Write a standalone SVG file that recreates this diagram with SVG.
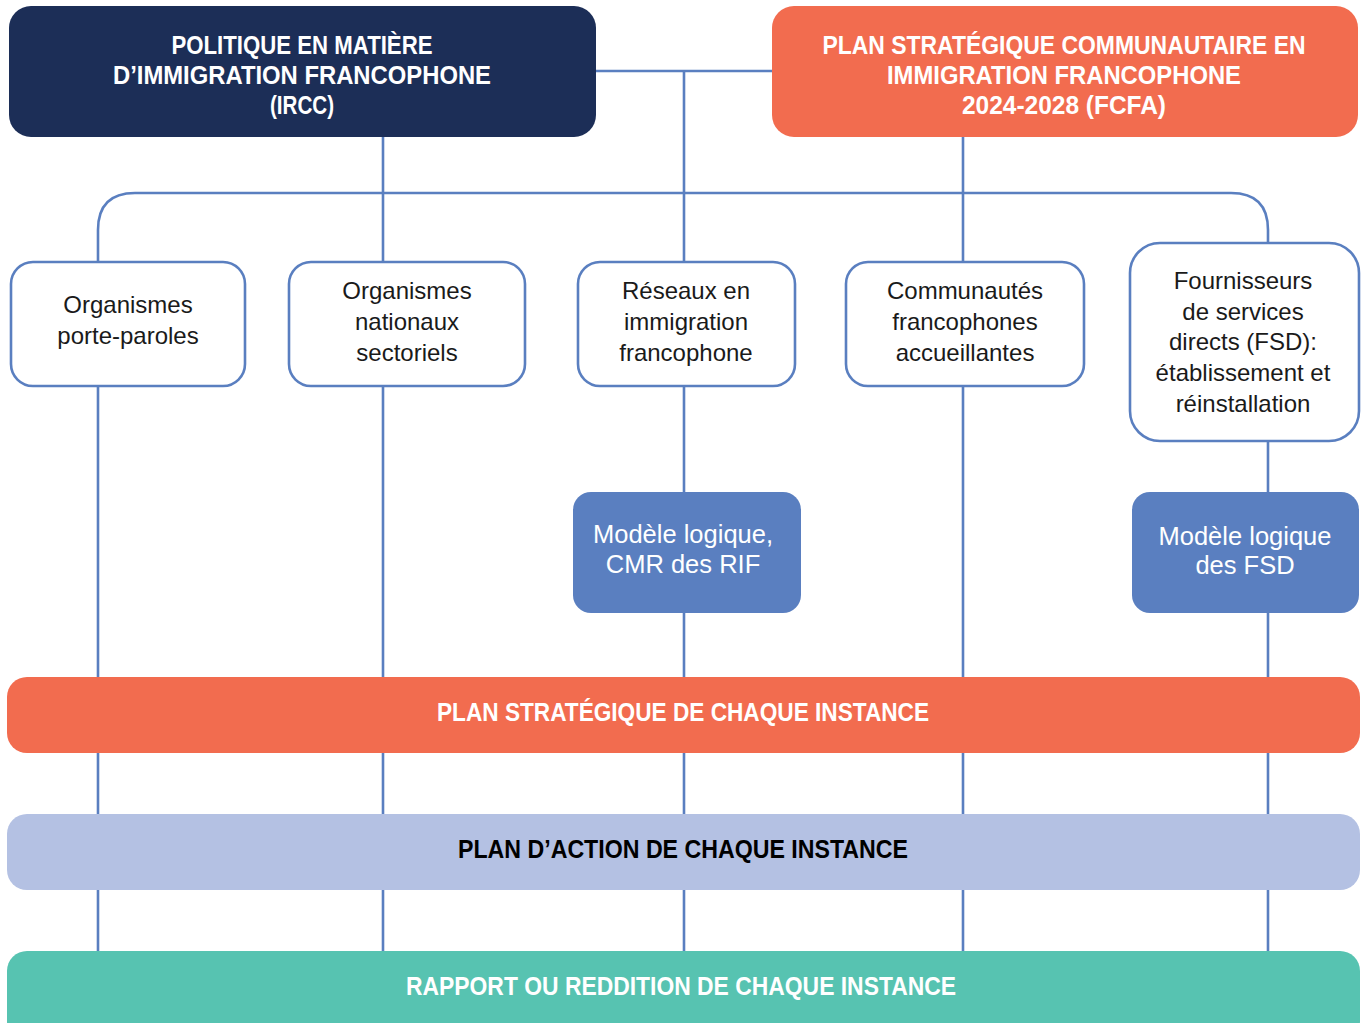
<svg xmlns="http://www.w3.org/2000/svg" width="1362" height="1023" viewBox="0 0 1362 1023">
<style>
.ln{fill:none;stroke:#5a7fc0;stroke-width:2.6}
.box{fill:#ffffff;stroke:#5a7fc0;stroke-width:2.6}
.t{font-family:"Liberation Sans",Arial,sans-serif;text-anchor:middle}
.h{font-weight:bold;font-size:25px}
.b{font-size:24px;fill:#1a1a1a}
.w{fill:#ffffff}
.m{font-size:25.5px}
</style>
<rect width="1362" height="1023" fill="#ffffff"/>
<g id="connectors">
<path class="ln" d="M596,71 H772"/>
<path class="ln" d="M684,71 V951"/>
<path class="ln" d="M383,137 V951"/>
<path class="ln" d="M963,137 V951"/>
<path class="ln" d="M98,951 V230 Q98,193 135,193 H1231 Q1268,193 1268,230 V951"/>
</g>
<g id="n-politique">
<rect x="9" y="6" width="587" height="131" rx="22" fill="#1c2e57"/>
<text class="t h w" x="302" y="54" textLength="261" lengthAdjust="spacingAndGlyphs">POLITIQUE EN MATIÈRE</text>
<text class="t h w" x="302" y="84" textLength="378" lengthAdjust="spacingAndGlyphs">D’IMMIGRATION FRANCOPHONE</text>
<text class="t h w" x="302" y="114" textLength="64" lengthAdjust="spacingAndGlyphs">(IRCC)</text>
</g>
<g id="n-plan-fcfa">
<rect x="772" y="6" width="586" height="131" rx="22" fill="#f26c4f"/>
<text class="t h w" x="1064" y="54" textLength="483" lengthAdjust="spacingAndGlyphs">PLAN STRATÉGIQUE COMMUNAUTAIRE EN</text>
<text class="t h w" x="1064" y="84" textLength="354" lengthAdjust="spacingAndGlyphs">IMMIGRATION FRANCOPHONE</text>
<text class="t h w" x="1064" y="114" textLength="204" lengthAdjust="spacingAndGlyphs">2024-2028 (FCFA)</text>
</g>
<g id="n-porte-paroles">
<rect class="box" x="11" y="262" width="234" height="124" rx="22"/>
<text class="t b" x="128" y="313">Organismes</text>
<text class="t b" x="128" y="344">porte-paroles</text>
</g>
<g id="n-nationaux">
<rect class="box" x="289" y="262" width="236" height="124" rx="22"/>
<text class="t b" x="407" y="299">Organismes</text>
<text class="t b" x="407" y="330">nationaux</text>
<text class="t b" x="407" y="361">sectoriels</text>
</g>
<g id="n-reseaux">
<rect class="box" x="578" y="262" width="217" height="124" rx="22"/>
<text class="t b" x="686" y="299">Réseaux en</text>
<text class="t b" x="686" y="330">immigration</text>
<text class="t b" x="686" y="361">francophone</text>
</g>
<g id="n-communautes">
<rect class="box" x="846" y="262" width="238" height="124" rx="22"/>
<text class="t b" x="965" y="299">Communautés</text>
<text class="t b" x="965" y="330">francophones</text>
<text class="t b" x="965" y="361">accueillantes</text>
</g>
<g id="n-fsd">
<rect class="box" x="1130" y="243" width="229" height="198" rx="30"/>
<text class="t b" x="1243" y="289">Fournisseurs</text>
<text class="t b" x="1243" y="320">de services</text>
<text class="t b" x="1243" y="350">directs (FSD):</text>
<text class="t b" x="1243" y="381">établissement et</text>
<text class="t b" x="1243" y="412">réinstallation</text>
</g>
<g id="n-modele-rif">
<rect x="573" y="492" width="228" height="121" rx="18" fill="#5a7fc0"/>
<text class="t b m w" x="683" y="543">Modèle logique,</text>
<text class="t b m w" x="683" y="573">CMR des RIF</text>
</g>
<g id="n-modele-fsd">
<rect x="1132" y="492" width="227" height="121" rx="18" fill="#5a7fc0"/>
<text class="t b m w" x="1245" y="545">Modèle logique</text>
<text class="t b m w" x="1245" y="574">des FSD</text>
</g>
<g id="n-plan-strategique">
<rect x="7" y="677" width="1353" height="76" rx="20" fill="#f26c4f"/>
<text class="t h w" x="683" y="721" textLength="492" lengthAdjust="spacingAndGlyphs">PLAN STRATÉGIQUE DE CHAQUE INSTANCE</text>
</g>
<g id="n-plan-action">
<rect x="7" y="814" width="1353" height="76" rx="20" fill="#b4c1e3"/>
<text class="t h" x="683" y="858" fill="#000000" textLength="450" lengthAdjust="spacingAndGlyphs">PLAN D’ACTION DE CHAQUE INSTANCE</text>
</g>
<g id="n-rapport">
<rect x="7" y="951" width="1353" height="90" rx="20" fill="#57c3b1"/>
<text class="t h w" x="681" y="995" textLength="550" lengthAdjust="spacingAndGlyphs">RAPPORT OU REDDITION DE CHAQUE INSTANCE</text>
</g>
</svg>
